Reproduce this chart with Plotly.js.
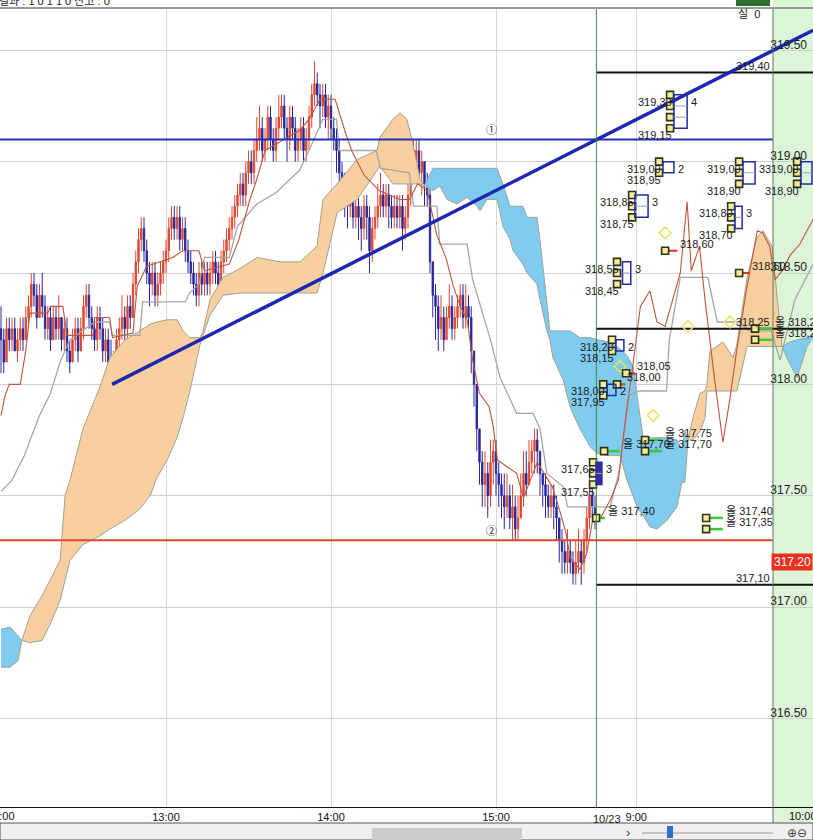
<!DOCTYPE html>
<html><head><meta charset="utf-8">
<script src="https://cdn.plot.ly/plotly-3.0.1.min.js"></script>
<style>html,body{margin:0;padding:0;background:#fff;}#chart{width:813px;height:840px;}</style>
</head><body><div id="chart"></div>
<script>
// ---------- time axis (minutes; day 1 from 12:00, day 2 continues after the break) ----------
const tickMin = [0, 60, 120, 180, 231, 291];
const tickText = ['12:00', '13:00', '14:00', '15:00', '9:00', '10:00'];
const dayBreakMin = 216.5;

// ---------- 1-minute bars, day 1 ----------
const O = [
318.25,318.20,318.10,318.25,318.20,318.25,318.15,318.20,318.25,318.20,
318.30,318.35,318.45,318.40,318.30,318.40,318.35,318.25,318.30,318.20,
318.30,318.25,318.30,318.20,318.25,318.15,318.10,318.20,318.25,318.15,
318.25,318.35,318.40,318.30,318.25,318.20,318.30,318.25,318.15,318.20,
318.10,318.05,318.10,318.20,318.25,318.30,318.25,318.35,318.30,318.45,
318.55,318.65,318.70,318.60,318.50,318.45,318.50,318.40,318.45,318.50,
318.55,318.60,318.70,318.75,318.70,318.75,318.65,318.70,318.60,318.55,
318.50,318.45,318.40,318.50,318.45,318.50,318.45,318.50,318.55,318.50,
318.45,318.55,318.60,318.65,318.70,318.75,318.80,318.85,318.90,318.85,
318.95,319.00,318.95,319.05,319.10,319.15,319.05,319.10,319.20,319.10,
319.05,319.15,319.20,319.25,319.15,319.10,319.20,319.15,319.05,319.10,
319.15,319.05,319.10,319.20,319.30,319.35,319.30,319.25,319.30,319.20,
319.25,319.15,319.10,319.05,318.95,318.90,318.85,318.80,318.85,318.75,
318.80,318.75,318.70,318.80,318.75,318.60,318.70,318.75,318.80,318.85,
318.80,318.85,318.80,318.75,318.80,318.75,318.80,318.70,318.75,318.85,
318.95,319.00,319.05,318.95,319.00,318.90,318.85,318.55,318.40,318.35,
318.25,318.30,318.20,318.30,318.35,318.25,318.30,318.35,318.40,318.30,
318.35,318.30,318.15,318.00,317.80,317.65,317.55,317.60,317.50,317.65,
317.70,317.60,317.55,317.50,317.45,317.50,317.40,317.45,317.35,317.40,
317.50,317.60,317.55,317.65,317.70,317.75,317.70,317.60,317.55,317.50,
317.45,317.50,317.45,317.40,317.30,317.25,317.20,317.25,317.20,317.15,
317.20,317.25,317.20,317.30,317.40,317.50,317.45];
const H = [
318.35,318.25,318.30,318.30,318.30,318.30,318.25,318.30,318.30,318.35,
318.40,318.50,318.50,318.45,318.45,318.50,318.40,318.35,318.35,318.35,
318.35,318.40,318.30,318.30,318.30,318.20,318.25,318.30,318.30,318.30,
318.40,318.45,318.45,318.35,318.30,318.35,318.35,318.30,318.25,318.25,
318.20,318.15,318.25,318.30,318.40,318.35,318.40,318.40,318.50,318.60,
318.70,318.75,318.75,318.65,318.55,318.55,318.55,318.50,318.55,318.60,
318.65,318.75,318.80,318.80,318.80,318.80,318.75,318.75,318.65,318.60,
318.55,318.50,318.55,318.55,318.55,318.55,318.55,318.60,318.60,318.55,
318.60,318.65,318.70,318.75,318.80,318.85,318.90,318.95,318.95,319.00,
319.05,319.05,319.10,319.20,319.25,319.20,319.15,319.25,319.25,319.15,
319.20,319.30,319.30,319.30,319.20,319.25,319.25,319.20,319.15,319.20,
319.20,319.15,319.25,319.35,319.45,319.40,319.35,319.35,319.35,319.30,
319.30,319.20,319.15,319.10,319.00,318.95,318.90,318.90,318.90,318.85,
318.85,318.80,318.85,318.85,318.80,318.75,318.80,318.90,318.95,318.90,
318.90,318.90,318.85,318.85,318.85,318.85,318.85,318.80,318.95,319.05,
319.10,319.10,319.10,319.05,319.00,318.95,318.90,318.55,318.45,318.40,
318.40,318.35,318.35,318.45,318.40,318.35,318.40,318.45,318.45,318.45,
318.40,318.35,318.15,318.00,317.80,317.70,317.70,317.65,317.75,317.75,
317.75,317.65,317.60,317.60,317.60,317.55,317.55,317.50,317.50,317.60,
317.70,317.70,317.75,317.75,317.80,317.80,317.70,317.60,317.60,317.55,
317.55,317.55,317.50,317.40,317.35,317.30,317.35,317.30,317.25,317.30,
317.35,317.30,317.35,317.45,317.60,317.55,317.50];
const L = [
318.05,318.05,318.10,318.15,318.15,318.15,318.10,318.15,318.15,318.20,
318.25,318.30,318.35,318.25,318.30,318.30,318.20,318.20,318.15,318.20,
318.20,318.20,318.15,318.15,318.10,318.05,318.10,318.15,318.10,318.15,
318.20,318.30,318.25,318.20,318.15,318.15,318.20,318.10,318.10,318.05,
318.00,318.00,318.05,318.15,318.20,318.20,318.20,318.25,318.30,318.40,
318.50,318.60,318.55,318.45,318.35,318.40,318.35,318.35,318.40,318.45,
318.50,318.55,318.65,318.65,318.65,318.60,318.60,318.55,318.50,318.45,
318.40,318.35,318.35,318.40,318.40,318.40,318.40,318.45,318.45,318.40,
318.45,318.50,318.55,318.60,318.65,318.70,318.75,318.80,318.80,318.80,
318.90,318.90,318.90,319.00,319.05,319.00,319.00,319.05,319.05,319.00,
319.00,319.10,319.15,319.10,319.00,319.05,319.10,319.00,319.00,319.05,
319.00,319.00,319.05,319.15,319.25,319.25,319.15,319.20,319.15,319.10,
319.10,319.05,318.95,318.90,318.80,318.75,318.70,318.75,318.70,318.70,
318.65,318.60,318.65,318.65,318.50,318.55,318.65,318.70,318.75,318.75,
318.75,318.70,318.70,318.70,318.70,318.70,318.60,318.65,318.70,318.80,
318.90,318.95,318.90,318.85,318.80,318.80,318.50,318.30,318.20,318.15,
318.20,318.15,318.20,318.25,318.20,318.20,318.25,318.30,318.25,318.25,
318.25,318.05,317.90,317.70,317.55,317.45,317.45,317.40,317.45,317.55,
317.50,317.45,317.40,317.35,317.40,317.35,317.30,317.30,317.30,317.40,
317.45,317.50,317.55,317.60,317.60,317.60,317.50,317.45,317.40,317.40,
317.40,317.35,317.30,317.20,317.15,317.15,317.15,317.15,317.10,317.10,
317.15,317.10,317.15,317.25,317.35,317.40,317.35];
const C = [
318.20,318.10,318.25,318.20,318.25,318.15,318.20,318.25,318.20,318.30,
318.35,318.45,318.40,318.30,318.40,318.35,318.25,318.30,318.20,318.30,
318.25,318.30,318.20,318.25,318.15,318.10,318.20,318.25,318.15,318.25,
318.35,318.40,318.30,318.25,318.20,318.30,318.25,318.15,318.20,318.10,
318.05,318.10,318.20,318.25,318.30,318.25,318.35,318.30,318.45,318.55,
318.65,318.70,318.60,318.50,318.45,318.50,318.40,318.45,318.50,318.55,
318.60,318.70,318.75,318.70,318.75,318.65,318.70,318.60,318.55,318.50,
318.45,318.40,318.50,318.45,318.50,318.45,318.50,318.55,318.50,318.45,
318.55,318.60,318.65,318.70,318.75,318.80,318.85,318.90,318.85,318.95,
319.00,318.95,319.05,319.10,319.15,319.05,319.10,319.20,319.10,319.05,
319.15,319.20,319.25,319.15,319.10,319.20,319.15,319.05,319.10,319.15,
319.05,319.10,319.20,319.30,319.35,319.30,319.25,319.30,319.20,319.25,
319.15,319.10,319.05,318.95,318.90,318.85,318.80,318.85,318.75,318.80,
318.75,318.70,318.80,318.75,318.60,318.70,318.75,318.80,318.85,318.80,
318.85,318.80,318.75,318.80,318.75,318.80,318.70,318.75,318.85,318.95,
319.00,319.05,318.95,319.00,318.90,318.85,318.55,318.40,318.35,318.25,
318.30,318.20,318.30,318.35,318.25,318.30,318.35,318.40,318.30,318.35,
318.30,318.15,318.00,317.80,317.65,317.55,317.60,317.50,317.65,317.70,
317.60,317.55,317.50,317.45,317.50,317.40,317.45,317.35,317.40,317.50,
317.60,317.55,317.65,317.70,317.75,317.70,317.60,317.55,317.50,317.45,
317.50,317.45,317.40,317.30,317.25,317.20,317.25,317.20,317.15,317.20,
317.25,317.20,317.30,317.40,317.50,317.45,317.40];

// ---------- conversion line (red-brown) ----------
const convMin = [0,1.5,3,7,9,10.5,17,18,22.5,24,33.5,34,39.5,40.5,48,49.5,53,62.5,66,72,74,83,86.5,90.5,93,96,108.5,112,116,121.5,125,127.5,132,137.5,145,148.5,151.5,155,158.5,162,164.5,167,169.5,171.5,174,177.5,179,180.5,184,187.5,190,192.5,195,198.5,200.5,203,205.5,207,210.5,213,215,218,221.5,224.5,227,229.5,232.5,236,238.5,241.5,243.5,247,249.5,251,254,256,259.5,262.5,265,267.5,271,275,277,279.5,281.5,284,287,290.5,295.3];
const convP = [317.86,317.95,318.00,318.00,318.15,318.32,318.32,318.35,318.35,318.22,318.22,318.30,318.30,318.21,318.23,318.44,318.53,318.57,318.60,318.60,318.51,318.54,318.65,318.83,318.92,319.05,319.14,319.19,319.28,319.28,319.14,319.05,318.94,318.87,318.83,318.83,318.90,318.87,318.67,318.56,318.44,318.35,318.29,318.11,317.96,317.90,317.81,317.66,317.63,317.60,317.49,317.57,317.65,317.58,317.54,317.44,317.33,317.22,317.17,317.24,317.38,317.40,317.48,317.57,317.84,318.06,318.35,318.42,318.28,318.26,318.35,318.50,318.82,318.51,318.62,318.38,318.02,317.74,317.93,318.15,318.42,318.69,318.68,318.62,318.47,318.51,318.58,318.63,318.74];

// ---------- base line (grey) ----------
const baseMin = [0,4,8.5,14,18,21.5,25,28.5,34,39.5,40.5,50.5,51.5,67,68.5,72,74,83,86,93,100,105,108.5,112,117,122,123,136.5,138,148.5,150,158.5,159.5,169.5,171.5,178,181.5,187.5,193.5,196,198.5,204.5,206,221.5,225,228.5,232,242,243,247,257,260.5,268.5,272,280,283.3,288.7,295.3];
const baseP = [317.52,317.57,317.68,317.86,317.96,318.10,318.20,318.23,318.28,318.28,318.22,318.22,318.37,318.37,318.41,318.45,318.57,318.57,318.71,318.81,318.86,318.92,318.96,319.05,319.19,319.19,319.05,319.05,318.97,318.95,318.80,318.80,318.63,318.63,318.47,318.20,318.03,317.87,317.87,317.80,317.60,317.54,317.45,317.45,317.62,317.95,317.97,317.97,318.20,318.48,318.48,318.28,318.28,318.24,318.24,318.11,318.38,318.54];

// ---------- cloud: leading span A / leading span B ----------
const cloudMin = [0,3.3,6.2,7.6,10.5,14.9,17.8,21.5,23.3,25.1,29.8,36,39.6,45.1,50.5,54.2,56.7,60.4,64,66.2,68.7,72.4,73.5,76,80.7,86.9,93.1,101.5,108.7,114.9,117.1,122.2,129.5,136.7,137.8,142.5,145.1,147.6,149.8,152.4,153.8,157.1,159.6,162.2,165.8,169.5,173.1,174.2,176.7,180.4,182.5,185.1,186.2,189.8,191.3,194.9,196,198.5,199.6,200.7,204.4,206.9,210.5,214.2,216.7,221.5,225.1,227.6,229.8,231.3,233.5,236,238.5,242.2,245.8,247.6,248.7,249.8,251.6,254.2,256,256.7,257.8,262.5,266.2,267.6,271.3,274.9,277.1,280.4,284,286.9,289.5,293.1,295.3];
const spanA = [316.73,316.73,316.76,316.85,316.96,317.05,317.12,317.21,317.50,317.57,317.80,317.99,318.12,318.20,318.24,318.27,318.28,318.29,318.29,318.24,318.21,318.21,318.24,318.38,318.48,318.52,318.57,318.55,318.55,318.62,318.83,318.90,319.01,319.05,319.11,319.19,319.22,319.19,319.08,318.92,318.89,318.87,318.89,318.83,318.81,318.84,318.80,318.78,318.83,318.83,318.71,318.65,318.60,318.54,318.50,318.45,318.38,318.24,318.20,318.12,318.02,317.90,317.80,317.72,317.69,317.68,317.68,317.57,317.50,317.45,317.41,317.36,317.35,317.39,317.45,317.56,317.56,317.75,317.85,317.96,317.97,318.00,318.15,318.19,318.12,318.18,318.48,318.66,318.69,318.62,318.17,318.09,318.03,318.17,318.21];
const spanB = [316.90,316.91,316.87,316.85,316.84,316.85,316.92,317.03,317.12,317.21,317.28,317.32,317.35,317.39,317.44,317.50,317.58,317.66,317.76,317.85,317.97,318.18,318.22,318.31,318.40,318.41,318.41,318.41,318.41,318.41,318.50,318.77,318.83,318.96,318.98,318.90,318.90,318.90,318.90,318.90,318.89,318.97,318.97,318.97,318.97,318.97,318.97,318.97,318.97,318.97,318.90,318.80,318.80,318.80,318.75,318.75,318.65,318.38,318.24,318.24,318.24,318.24,318.21,318.21,318.20,318.19,318.16,318.13,318.08,317.95,317.76,317.76,317.76,317.76,317.75,317.71,317.79,317.75,317.75,317.79,317.85,317.97,317.97,317.97,317.97,317.97,318.17,318.17,318.17,318.17,318.17,318.19,318.20,318.21,318.22];

// ---------- drawn lines ----------
const trendMin = [40.4, 295.3];
const trendP = [318.00, 319.59];
const blueLevel = 319.10, redLevel = 317.30;
const blackLevels = [319.40, 318.25, 317.10];
const lastPrice = 317.20;

// ---------- pattern groups (day 2) ----------
const grpMin = [243.3, 239.3, 229.5, 268.4, 289.5, 265.5, 224.0, 222.2, 219.0, 215.3];
const grpLevels = [
  [319.30, 319.25, 319.20, 319.15],
  [319.00, 318.95],
  [318.85, 318.80, 318.75],
  [319.00, 318.95, 318.90],
  [319.00, 318.95, 318.90],
  [318.80, 318.75, 318.70],
  [318.55, 318.50, 318.45],
  [318.20, 318.15],
  [318.00, 317.95],
  [317.65, 317.60, 317.55]];
const grpBoxMin0 = [244.7, 240.7, 230.5, 269.8, 290.9, 266.9, 226.0, 223.6, 220.4, 216.4];
const grpBoxMin1 = [249.5, 244.7, 235.3, 274.2, 294.9, 269.5, 229.0, 226.5, 223.6, 218.5];
const grpCount = ['4', '2', '3', '3', '', '3', '3', '2', '2', '3'];

const sellMin = [241.5, 268.4, 227.3, 224.0];
const sellP = [318.60, 318.50, 318.05, 318.00];
const sellEndMin = [246.0, 272.4, 230.5, 227.0];

const buyMin = [219.3, 234.2, 234.2, 216.4, 256.4, 256.4, 274.2, 274.2];
const buyP = [317.70, 317.75, 317.70, 317.40, 317.40, 317.35, 318.25, 318.20];
const buyEndMin = [225.1, 240.4, 240.4, 219.6, 262.5, 262.5, 280.4, 280.4];

const dotMin = [241.5, 249.8, 265.1, 237.1, 225.1];
const dotP = [318.68, 318.26, 318.28, 317.86, 318.08];

// ================= build =================
const fmt = p => p.toFixed(2).replace('.', ',');
const barMin = O.map((_, i) => i);
const traces = [];

// cloud fills, split where the spans cross
(function () {
  const segs = []; let cur = { s: 0, idx: [] };
  for (let i = 0; i < cloudMin.length; i++) {
    const d = spanA[i] - spanB[i];
    const s = Math.abs(d) < 1e-9 ? 0 : (d > 0 ? 1 : -1);
    if (s === 0) { cur.idx.push(i); if (cur.s !== 0) { segs.push(cur); cur = { s: 0, idx: [i] }; } }
    else if (cur.s === 0 || cur.s === s) { cur.s = s; cur.idx.push(i); }
    else { segs.push(cur); cur = { s: s, idx: [i - 1, i] }; }
  }
  if (cur.idx.length > 1) segs.push(cur);
  segs.forEach(sg => {
    const xs = sg.idx.map(i => cloudMin[i]);
    const ya = sg.idx.map(i => spanA[i]);
    const yb = sg.idx.map(i => spanB[i]);
    traces.push({
      type: 'scatter', mode: 'lines', x: xs.concat(xs.slice().reverse()), y: ya.concat(yb.slice().reverse()),
      fill: 'toself', fillcolor: sg.s > 0 ? '#f8cf9e' : '#80cbf0', line: { width: 0 }, hoverinfo: 'skip'
    });
  });
})();
traces.push({ type: 'scatter', mode: 'lines', x: cloudMin, y: spanA, line: { color: '#a8a08c', width: 1 }, hoverinfo: 'skip' });
traces.push({ type: 'scatter', mode: 'lines', x: cloudMin, y: spanB, line: { color: '#98a4a0', width: 1 }, hoverinfo: 'skip' });
traces.push({ type: 'scatter', mode: 'lines', x: baseMin, y: baseP, line: { color: '#a6a6a6', width: 1.3 }, hoverinfo: 'skip' });
traces.push({ type: 'scatter', mode: 'lines', x: convMin, y: convP, line: { color: '#c0553f', width: 1.1 }, hoverinfo: 'skip' });

traces.push({
  type: 'candlestick', x: barMin, open: O, high: H, low: L, close: C,
  increasing: { line: { color: '#e0462e', width: 1 }, fillcolor: '#e0462e' },
  decreasing: { line: { color: '#26269e', width: 1 }, fillcolor: '#26269e' },
  whiskerwidth: 0, hoverinfo: 'skip'
});

// horizontal levels
traces.push({ type: 'scatter', mode: 'lines', x: [-1, 280.7], y: [blueLevel, blueLevel], line: { color: '#2230b8', width: 2 }, hoverinfo: 'skip' });
traces.push({ type: 'scatter', mode: 'lines', x: [-1, 280.7], y: [redLevel, redLevel], line: { color: '#e4432c', width: 2 }, hoverinfo: 'skip' });
blackLevels.forEach(p => traces.push({ type: 'scatter', mode: 'lines', x: [dayBreakMin, 296], y: [p, p], line: { color: '#111', width: 2 }, hoverinfo: 'skip' }));
traces.push({ type: 'scatter', mode: 'lines', x: trendMin, y: trendP, line: { color: '#1c28b0', width: 3.5 }, hoverinfo: 'skip' });

// signal stubs
function stubs(xs, ys, xe, color, w) {
  const x = [], y = [];
  xs.forEach((v, i) => { x.push(v, xe[i], null); y.push(ys[i], ys[i], null); });
  traces.push({ type: 'scatter', mode: 'lines', x: x, y: y, line: { color: color, width: w }, hoverinfo: 'skip', connectgaps: false });
}
stubs(sellMin, sellP, sellEndMin, '#d8382a', 2);
stubs(buyMin, buyP, buyEndMin, '#38c838', 2.5);

// yellow hollow dots
traces.push({ type: 'scatter', mode: 'markers', x: dotMin, y: dotP, marker: { symbol: 'diamond-open', size: 9, color: '#ece25a', line: { width: 1.5 } }, hoverinfo: 'skip' });

// pattern markers
const mkX = [], mkY = [];
grpLevels.forEach((lv, g) => lv.forEach(p => { mkX.push(grpMin[g]); mkY.push(p); }));
sellMin.forEach((m, i) => { mkX.push(m); mkY.push(sellP[i]); });
buyMin.forEach((m, i) => { mkX.push(m); mkY.push(buyP[i]); });
traces.push({ type: 'scatter', mode: 'markers', x: mkX, y: mkY, marker: { symbol: 'square', size: 7, color: '#f3eba0', line: { color: '#33330c', width: 1.6 } }, hoverinfo: 'skip' });

// ---------- shapes & annotations ----------
const P = v => (807 - v) / 799;   // page y -> paper y
const Q = v => v / 813;           // page x -> paper x
const shapes = [
  { type: 'rect', xref: 'paper', yref: 'paper', x0: Q(773), x1: 1, y0: P(823), y1: P(0), fillcolor: '#dcf4d8', line: { width: 0 }, layer: 'below' },
  { type: 'line', xref: 'x', yref: 'paper', x0: dayBreakMin, x1: dayBreakMin, y0: 0, y1: 1, line: { color: '#3f8a3f', width: 1 } },
  { type: 'line', xref: 'paper', yref: 'paper', x0: Q(773), x1: Q(773), y0: P(823), y1: 1, line: { color: '#5a7a5a', width: 1 } },
  { type: 'line', xref: 'paper', yref: 'paper', x0: 0, x1: 1, y0: 1, y1: 1, line: { color: '#9a9a9a', width: 2 } },
  { type: 'rect', xref: 'paper', yref: 'paper', x0: 0, x1: 1, y0: P(840), y1: P(823), fillcolor: '#efefef', line: { color: '#555', width: 1 } },
  { type: 'rect', xref: 'paper', yref: 'paper', x0: Q(372), x1: Q(522), y0: P(840), y1: P(828), fillcolor: '#cbcbcb', line: { width: 0 } },
  { type: 'line', xref: 'paper', yref: 'paper', x0: Q(642), x1: Q(773), y0: P(833), y1: P(833), line: { color: '#c4c4c4', width: 2 } },
  { type: 'rect', xref: 'paper', yref: 'paper', x0: Q(667), x1: Q(673), y0: P(838), y1: P(826), fillcolor: '#2f6fc4', line: { width: 0 } },
  { type: 'rect', xref: 'paper', yref: 'paper', x0: Q(736), x1: Q(770), y0: P(6), y1: P(0), fillcolor: '#2e6e2e', line: { width: 0 } }
];
const lblFont = { family: 'Liberation Sans, Arial, sans-serif', size: 11, color: '#1a1a1a' };
const krFont = { family: 'Liberation Sans, "Noto Sans CJK KR", sans-serif', size: 11, color: '#1a1a1a' };
const ann = [];
grpLevels.forEach((lv, g) => {
  const top = lv[0], bot = lv[lv.length - 1];
  ann.push({ xref: 'x', yref: 'y', x: grpMin[g], y: top, text: fmt(top), xanchor: 'right', yanchor: 'top', xshift: 4, yshift: 1, showarrow: false, font: lblFont });
  ann.push({ xref: 'x', yref: 'y', x: grpMin[g], y: bot, text: fmt(bot), xanchor: 'right', yanchor: 'top', xshift: 4, yshift: 1, showarrow: false, font: lblFont });
  if (grpCount[g]) ann.push({ xref: 'x', yref: 'y', x: grpBoxMin1[g], y: top, text: grpCount[g], xanchor: 'left', yanchor: 'top', xshift: 2, yshift: 1, showarrow: false, font: lblFont });
  shapes.push({ type: 'rect', xref: 'x', yref: 'y', x0: grpBoxMin0[g], x1: grpBoxMin1[g], y0: bot, y1: top, line: { color: '#1e2ca6', width: 1.5 }, fillcolor: g === 9 ? '#3c2c9c' : 'rgba(255,255,255,0)' });
  for (let k = 1; k < lv.length - 1; k++) shapes.push({ type: 'line', xref: 'x', yref: 'y', x0: grpBoxMin0[g], x1: grpBoxMin1[g], y0: lv[k], y1: lv[k], line: { color: '#9aa0c8', width: 1 } });
});
sellMin.forEach((m, i) => ann.push({ xref: 'x', yref: 'y', x: sellEndMin[i], y: sellP[i], text: fmt(sellP[i]), xanchor: 'left', yanchor: 'bottom', xshift: 0, yshift: -1, showarrow: false, font: lblFont }));
buyMin.forEach((m, i) => ann.push({ xref: 'x', yref: 'y', x: buyEndMin[i], y: buyP[i], text: '올 ' + fmt(buyP[i]), xanchor: 'left', yanchor: 'bottom', xshift: 1, yshift: -1, showarrow: false, font: krFont }));
blackLevels.forEach(p => ann.push({ xref: 'x', yref: 'y', x: 280.4, y: p, text: fmt(p), xanchor: 'right', yanchor: 'bottom', yshift: -1, showarrow: false, font: lblFont }));
ann.push({ xref: 'x', yref: 'y', x: 178.5, y: blueLevel, text: '①', xanchor: 'center', yanchor: 'bottom', showarrow: false, font: { family: 'Noto Sans CJK KR, DejaVu Sans', size: 11, color: '#222' } });
ann.push({ xref: 'x', yref: 'y', x: 178.5, y: redLevel, text: '②', xanchor: 'center', yanchor: 'bottom', showarrow: false, font: { family: 'Noto Sans CJK KR, DejaVu Sans', size: 11, color: '#222' } });
ann.push({ xref: 'paper', yref: 'y', x: 1, y: lastPrice, text: lastPrice.toFixed(2), xanchor: 'right', yanchor: 'middle', showarrow: false, bgcolor: '#e8321e', borderpad: 1, width: 38, align: 'right', font: { family: 'Liberation Sans, Arial', size: 12, color: '#ffffff' } });
ann.push({ xref: 'x', yref: 'paper', x: 220.4, y: P(819), text: '10/23', xanchor: 'center', yanchor: 'middle', showarrow: false, font: lblFont });
ann.push({ xref: 'paper', yref: 'paper', x: Q(1), y: P(816), text: '12:00', xanchor: 'center', yanchor: 'middle', showarrow: false, font: { size: 11, color: '#111' } });
ann.push({ xref: 'paper', yref: 'paper', x: Q(787), y: P(816), text: '10:00', xanchor: 'left', yanchor: 'middle', showarrow: false, font: { size: 11, color: '#111' } });
ann.push({ xref: 'paper', yref: 'paper', x: Q(-3), y: P(1), text: '결과 : 1 0 1 1 0 잔고 : 0', xanchor: 'left', yanchor: 'middle', showarrow: false, font: krFont });
ann.push({ xref: 'paper', yref: 'paper', x: Q(762), y: P(14), text: '실  0', xanchor: 'right', yanchor: 'middle', showarrow: false, font: krFont });
ann.push({ xref: 'paper', yref: 'paper', x: Q(628), y: P(833), text: '›', xanchor: 'center', yanchor: 'middle', showarrow: false, font: { size: 13, color: '#444' } });
ann.push({ xref: 'paper', yref: 'paper', x: Q(797), y: P(833), text: '⊕⊖', xanchor: 'center', yanchor: 'middle', showarrow: false, font: { family: 'DejaVu Sans', size: 12, color: '#444' } });

const layout = {
  width: 813, height: 840,
  margin: { l: 0, r: 0, t: 8, b: 33, pad: 0 },
  paper_bgcolor: '#ffffff', plot_bgcolor: '#ffffff',
  showlegend: false, hovermode: false,
  font: { family: 'Liberation Sans, Arial, sans-serif', size: 11, color: '#222' },
  xaxis: {
    range: [-0.364, 295.27], tickmode: 'array', tickvals: tickMin, ticktext: tickText,
    showgrid: true, gridcolor: '#d6d6d6', gridwidth: 1, zeroline: false,
    showline: true, linecolor: '#111', linewidth: 1, ticks: '',
    tickfont: { size: 11, color: '#111' }, rangeslider: { visible: false }, fixedrange: true
  },
  yaxis: {
    range: [316.102, 319.690], side: 'right', tick0: 316.5, dtick: 0.5, tickformat: '.2f',
    showgrid: true, gridcolor: '#cfcfcf', zeroline: false, showline: false, ticks: '',
    ticklabelposition: 'inside', ticklabelshift: -6, ticklabelstandoff: 3,
    tickfont: { size: 12, color: '#222' }, fixedrange: true
  },
  shapes: shapes, annotations: ann
};
Plotly.newPlot('chart', traces, layout, { staticPlot: true, displayModeBar: false });
</script></body></html>
